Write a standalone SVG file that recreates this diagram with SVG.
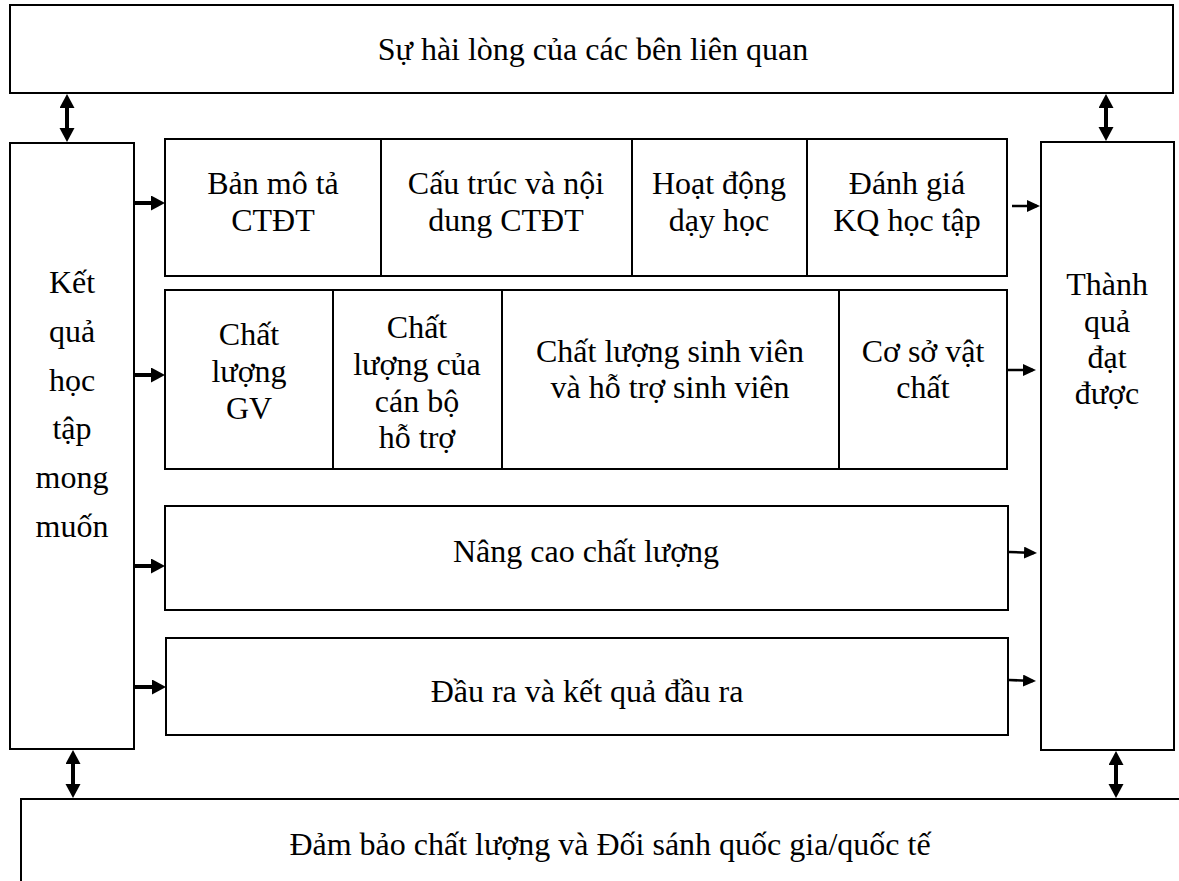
<svg xmlns="http://www.w3.org/2000/svg" width="1179" height="881" viewBox="0 0 1179 881">
<style>
  .box { fill: #ffffff; stroke: #000000; stroke-width: 2; }
  .t { font-family: "Liberation Serif", "Times New Roman", serif; font-size: 32px; fill: #000000; text-anchor: middle; }
  .thick { stroke: #000000; stroke-width: 4; fill: none; }
  .thin { stroke: #000000; stroke-width: 2.5; fill: none; }
</style>
<defs>
  <marker id="big" markerUnits="userSpaceOnUse" markerWidth="15" markerHeight="16" refX="10" refY="7.5" orient="auto-start-reverse">
    <path d="M0,0 L14,7.5 L0,15 Z" fill="#000000"/>
  </marker>
  <marker id="small" markerUnits="userSpaceOnUse" markerWidth="14" markerHeight="13" refX="10" refY="6" orient="auto">
    <path d="M0,0 L13,6 L0,12 Z" fill="#000000"/>
  </marker>
</defs>
<rect x="0" y="0" width="1179" height="881" fill="#ffffff"/>

<g id="node-top">
  <rect class="box" x="10" y="5" width="1163" height="88"/>
  <text class="t" x="593" y="60">Sự hài lòng của các bên liên quan</text>
</g>

<g id="node-left">
  <rect class="box" x="10" y="143" width="124" height="606"/>
  <text class="t" x="72" y="293">Kết</text>
  <text class="t" x="72" y="342">quả</text>
  <text class="t" x="72" y="391">học</text>
  <text class="t" x="72" y="439">tập</text>
  <text class="t" x="72" y="488">mong</text>
  <text class="t" x="72" y="537">muốn</text>
</g>

<g id="node-right">
  <rect class="box" x="1041" y="142" width="133" height="608"/>
  <text class="t" x="1107" y="295">Thành</text>
  <text class="t" x="1107" y="332">quả</text>
  <text class="t" x="1107" y="368">đạt</text>
  <text class="t" x="1107" y="404">được</text>
</g>

<g id="node-ban-mo-ta">
  <rect class="box" x="165" y="139" width="216" height="137"/>
  <text class="t" x="273" y="194">Bản mô tả</text>
  <text class="t" x="273" y="231">CTĐT</text>
</g>
<g id="node-cau-truc">
  <rect class="box" x="381" y="139" width="251" height="137"/>
  <text class="t" x="506" y="194">Cấu trúc và nội</text>
  <text class="t" x="506" y="231">dung CTĐT</text>
</g>
<g id="node-hoat-dong">
  <rect class="box" x="632" y="139" width="175" height="137"/>
  <text class="t" x="719" y="194">Hoạt động</text>
  <text class="t" x="719" y="231">dạy học</text>
</g>
<g id="node-danh-gia">
  <rect class="box" x="807" y="139" width="200" height="137"/>
  <text class="t" x="907" y="194">Đánh giá</text>
  <text class="t" x="907" y="231">KQ học tập</text>
</g>

<g id="node-gv">
  <rect class="box" x="165" y="290" width="168" height="179"/>
  <text class="t" x="249" y="345">Chất</text>
  <text class="t" x="249" y="382">lượng</text>
  <text class="t" x="249" y="419">GV</text>
</g>
<g id="node-can-bo">
  <rect class="box" x="333" y="290" width="169" height="179"/>
  <text class="t" x="417" y="338">Chất</text>
  <text class="t" x="417" y="375">lượng của</text>
  <text class="t" x="417" y="412">cán bộ</text>
  <text class="t" x="417" y="448">hỗ trợ</text>
</g>
<g id="node-sinh-vien">
  <rect class="box" x="502" y="290" width="337" height="179"/>
  <text class="t" x="670" y="362">Chất lượng sinh viên</text>
  <text class="t" x="670" y="398">và hỗ trợ sinh viên</text>
</g>
<g id="node-co-so">
  <rect class="box" x="839" y="290" width="168" height="179"/>
  <text class="t" x="923" y="362">Cơ sở vật</text>
  <text class="t" x="923" y="398">chất</text>
</g>

<g id="node-nang-cao">
  <rect class="box" x="165" y="506" width="843" height="104"/>
  <text class="t" x="586" y="562">Nâng cao chất lượng</text>
</g>

<g id="node-dau-ra">
  <rect class="box" x="166" y="638" width="842" height="97"/>
  <text class="t" x="587" y="702">Đầu ra và kết quả đầu ra</text>
</g>

<g id="node-bottom">
  <rect class="box" x="21" y="799" width="1200" height="120"/>
  <text class="t" x="610" y="855">Đảm bảo chất lượng và Đối sánh quốc gia/quốc tế</text>
</g>

<g id="connectors">
  <line class="thick" x1="67" y1="98" x2="67" y2="138" marker-start="url(#big)" marker-end="url(#big)"/>
  <line class="thick" x1="1106" y1="98" x2="1106" y2="137" marker-start="url(#big)" marker-end="url(#big)"/>
  <line class="thick" x1="73" y1="754" x2="73" y2="794" marker-start="url(#big)" marker-end="url(#big)"/>
  <line class="thick" x1="1116" y1="755" x2="1116" y2="794" marker-start="url(#big)" marker-end="url(#big)"/>

  <line class="thick" x1="135" y1="203" x2="161" y2="203" marker-end="url(#big)"/>
  <line class="thick" x1="135" y1="375" x2="161" y2="375" marker-end="url(#big)"/>
  <line class="thick" x1="135" y1="566" x2="161" y2="566" marker-end="url(#big)"/>
  <line class="thick" x1="135" y1="687" x2="162" y2="687" marker-end="url(#big)"/>

  <line class="thin" x1="1012" y1="206" x2="1037" y2="206" marker-end="url(#small)"/>
  <line class="thin" x1="1008" y1="370" x2="1033" y2="370" marker-end="url(#small)"/>
  <line class="thin" x1="1009" y1="552" x2="1034" y2="553" marker-end="url(#small)"/>
  <line class="thin" x1="1009" y1="680" x2="1033" y2="681" marker-end="url(#small)"/>
</g>
</svg>
